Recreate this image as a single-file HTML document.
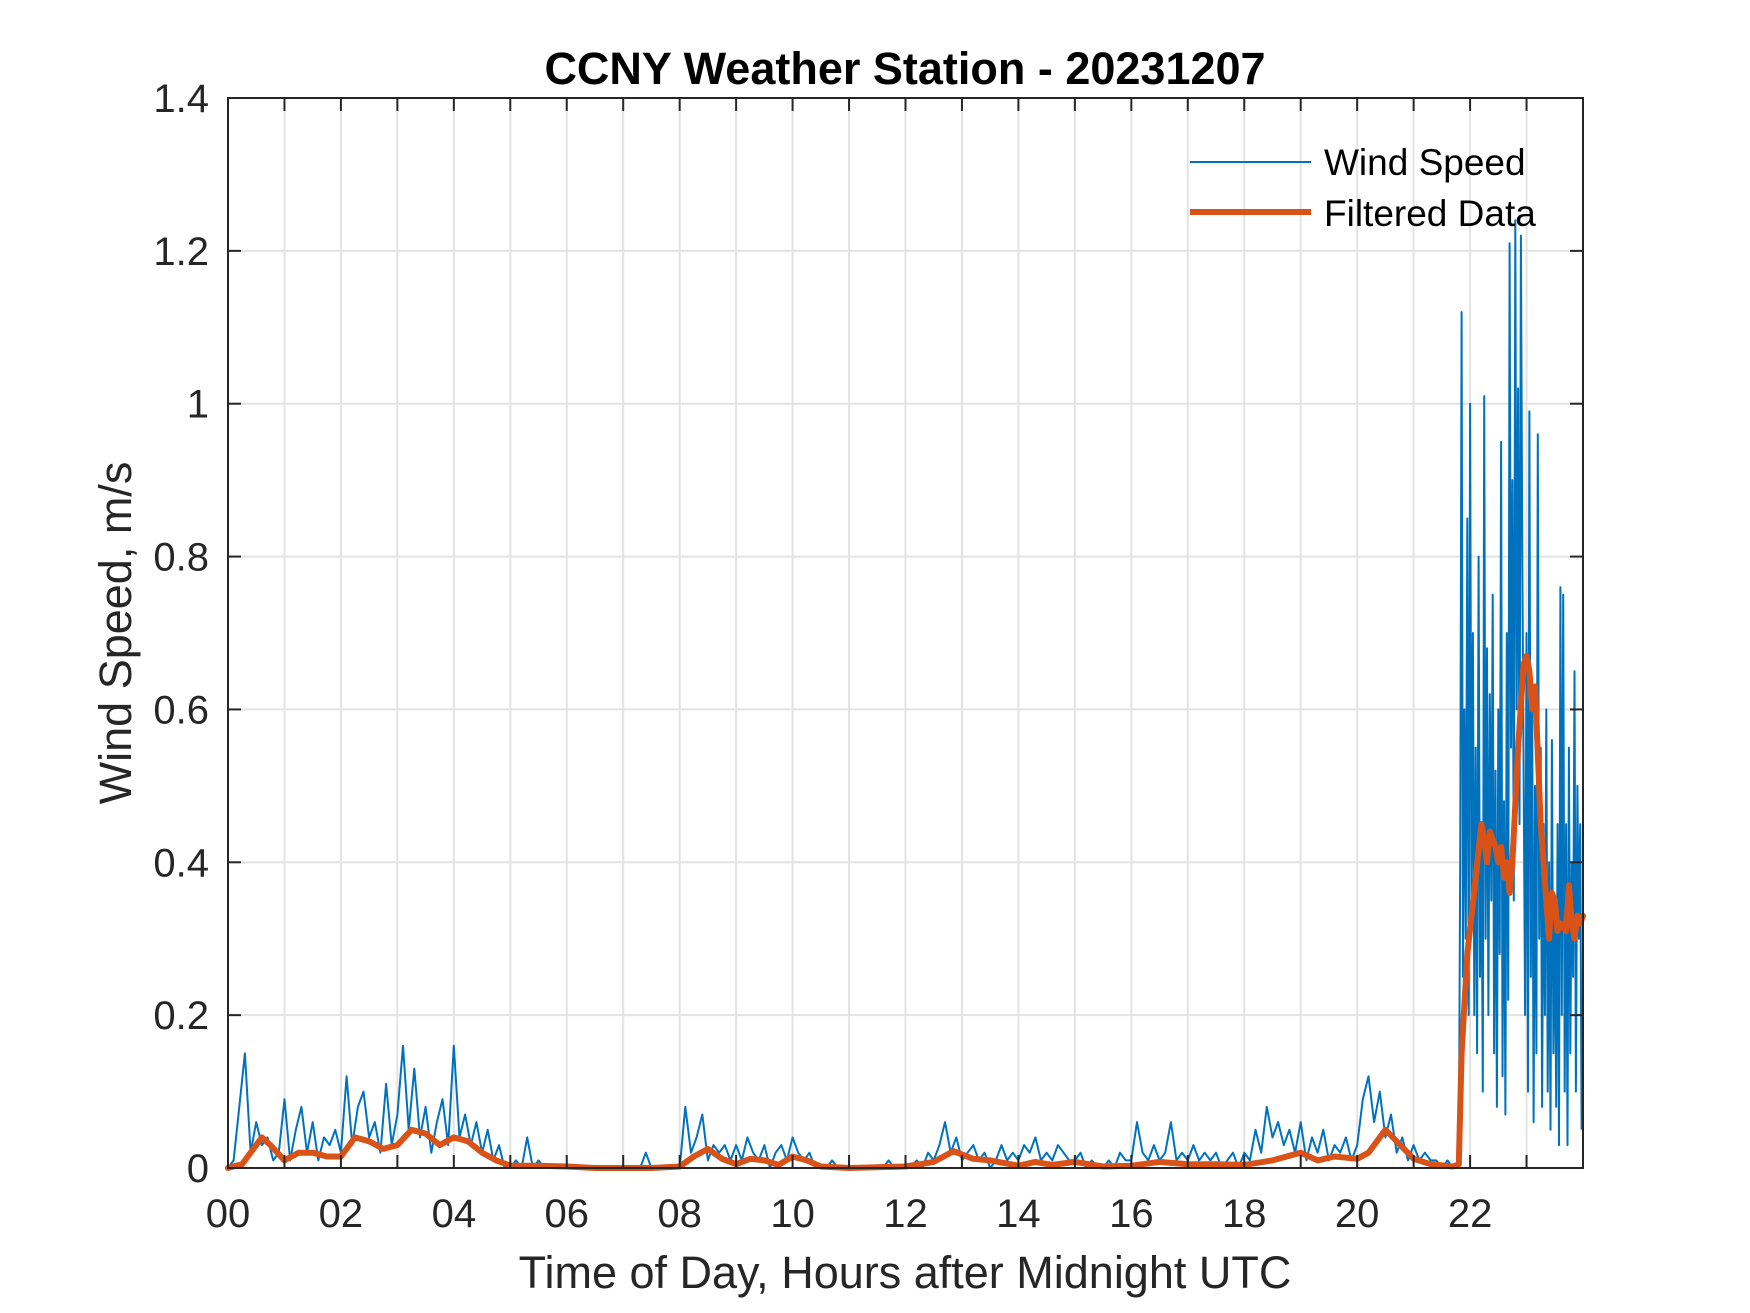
<!DOCTYPE html>
<html><head><meta charset="utf-8"><style>
html,body{margin:0;padding:0;background:#fff;}
svg{display:block;}
text{font-family:"Liberation Sans",Arial,sans-serif;}
</style></head><body>
<svg id="chart" width="1750" height="1313" viewBox="0 0 1750 1313" xmlns="http://www.w3.org/2000/svg">
<rect width="1750" height="1313" fill="#fff"/>
<g id="grid"></g>
<g id="series"></g>
<rect x="228" y="98" width="1355" height="1070" fill="none" stroke="#262626" stroke-width="2"/>
<g id="ticks"></g>
<text x="905" y="84" font-size="45" font-weight="bold" text-anchor="middle" fill="#000">CCNY Weather Station - 20231207</text>
<text x="905" y="1288" font-size="45" text-anchor="middle" fill="#262626">Time of Day, Hours after Midnight UTC</text>
<text transform="translate(131,633) rotate(-90)" font-size="45" text-anchor="middle" fill="#262626">Wind Speed, m/s</text>
<g>
<line x1="1190" y1="162" x2="1311" y2="162" stroke="#0072BD" stroke-width="2"/>
<text x="1324" y="175" font-size="37" fill="#000">Wind Speed</text>
<line x1="1190" y1="212" x2="1311" y2="212" stroke="#D95319" stroke-width="6"/>
<text x="1324" y="226" font-size="37" fill="#000">Filtered Data</text>
</g>
</svg>
<script>
const xTickLabels = ["00","02","04","06","08","10","12","14","16","18","20","22"];
const yTickValues = [0,0.2,0.4,0.6,0.8,1,1.2,1.4];
const yTickLabels = ["0","0.2","0.4","0.6","0.8","1","1.2","1.4"];
// Raw wind speed, part 1: 0.0h - 21.7h every 0.1 h
const speedEarly = [
0,0.01,0.08,0.15,0.02,0.06,0.03,0.04,0.01,0.02,
0.09,0.01,0.05,0.08,0.02,0.06,0.01,0.04,0.03,0.05,
0.02,0.12,0.03,0.08,0.10,0.04,0.06,0.02,0.11,0.03,
0.07,0.16,0.05,0.13,0.04,0.08,0.02,0.06,0.09,0.03,
0.16,0.04,0.07,0.03,0.06,0.02,0.05,0.01,0.03,0.0,
0.0,0.01,0.0,0.04,0.0,0.01,0.0,0.0,0.0,0.0,
0,0,0,0,0,0,0,0,0,0,
0,0,0,0,0.02,0,0,0,0,0,
0,0.08,0.02,0.04,0.07,0.01,0.03,0.02,0.03,0.01,
0.03,0.01,0.04,0.02,0.01,0.03,0,0.02,0.03,0.01,
0.04,0.02,0.01,0.02,0,0,0,0.01,0,0,
0,0,0,0,0,0,0,0.01,0,0,
0,0,0.01,0,0.02,0.01,0.03,0.06,0.02,0.04,
0.01,0.02,0.03,0.01,0.02,0,0.01,0.03,0.01,0.02,
0.01,0.03,0.02,0.04,0.01,0.02,0.01,0.03,0.02,0.01,
0.01,0.02,0,0.01,0,0,0.01,0,0.02,0.01,
0.01,0.06,0.02,0.01,0.03,0.01,0.02,0.06,0.01,0.02,
0.01,0.03,0.01,0.02,0.01,0.02,0,0.01,0.02,0,
0.02,0.01,0.05,0.02,0.08,0.04,0.06,0.03,0.05,0.02,
0.06,0.01,0.04,0.02,0.05,0.01,0.03,0.02,0.04,0.01,
0.03,0.09,0.12,0.06,0.10,0.04,0.07,0.02,0.04,0.01,
0.03,0.01,0.02,0.01,0.01,0,0.01,0];
const earlyStart = 0, earlyStep = 0.1;
// Raw wind speed, part 2: 21.8h onward every 0.025 h
const speedLate = [
0.01,0.40,1.12,0.25,0.60,0.30,0.85,0.20,1.00,0.35,0.70,0.20,0.55,0.15,0.80,0.25,
0.45,0.10,1.01,0.30,0.68,0.20,0.62,0.35,0.75,0.15,0.52,0.08,0.60,0.28,0.95,0.12,
0.48,0.07,0.70,0.22,1.21,0.55,0.90,0.35,1.24,0.60,1.02,0.45,1.22,0.80,0.50,0.20,
0.70,0.10,0.99,0.25,0.60,0.06,0.50,0.15,0.96,0.30,0.55,0.08,0.45,0.20,0.60,0.10,
0.40,0.05,0.56,0.15,0.35,0.08,0.45,0.03,0.76,0.20,0.75,0.10,0.45,0.03,0.55,0.15,
0.40,0.25,0.65,0.10,0.50,0.30,0.45,0.05];
const lateStart = 21.8, lateStep = 0.025;
// Filtered data
const filtHours = [0,0.25,0.5,0.6,0.75,1.0,1.25,1.5,1.75,2.0,2.25,2.5,2.75,3.0,3.25,3.5,3.75,4.0,4.25,4.5,4.75,5.0,5.5,6.0,6.5,7.5,8.0,8.25,8.5,8.75,9.0,9.25,9.5,9.75,10.0,10.25,10.5,11.0,12.0,12.5,12.85,13.2,13.5,14.0,14.3,14.6,15.0,15.5,16.0,16.5,17.0,17.5,18.0,18.5,19.0,19.3,19.6,20.0,20.2,20.5,20.7,21.0,21.3,21.7,21.8,21.85,21.95,22.1,22.2,22.25,22.3,22.35,22.45,22.5,22.55,22.6,22.65,22.7,22.75,22.85,22.95,23.0,23.05,23.1,23.15,23.25,23.35,23.4,23.45,23.5,23.55,23.6,23.7,23.75,23.8,23.85,23.9,23.95,24.0];
const filtValues = [0,0.005,0.03,0.04,0.03,0.01,0.02,0.02,0.015,0.015,0.04,0.035,0.025,0.03,0.05,0.045,0.03,0.04,0.035,0.02,0.01,0.003,0.003,0.002,0,0,0.002,0.015,0.025,0.012,0.005,0.012,0.01,0.004,0.015,0.01,0.002,0,0.002,0.008,0.022,0.012,0.01,0.003,0.008,0.004,0.008,0.002,0.003,0.008,0.005,0.005,0.004,0.01,0.02,0.01,0.015,0.012,0.02,0.05,0.035,0.012,0.005,0.002,0.005,0.15,0.28,0.38,0.45,0.43,0.40,0.44,0.42,0.40,0.42,0.38,0.40,0.36,0.40,0.55,0.66,0.67,0.65,0.60,0.63,0.45,0.35,0.30,0.36,0.35,0.31,0.32,0.31,0.37,0.32,0.30,0.33,0.32,0.33];

const X0=228,X1=1583,Y0=1168,Y1=98,XMAX=24,YMAX=1.4;
const NS="http://www.w3.org/2000/svg";
function xs(h){return X0+(h/XMAX)*(X1-X0);}
function ys(v){return Y0-(v/YMAX)*(Y0-Y1);}
function mk(tag,attrs,parent){const e=document.createElementNS(NS,tag);for(const k in attrs)e.setAttribute(k,attrs[k]);parent.appendChild(e);return e;}
const grid=document.getElementById('grid'),ticks=document.getElementById('ticks'),series=document.getElementById('series');
for(let h=1;h<XMAX;h++){
  const g=mk('line',{x1:xs(h),x2:xs(h),y1:Y1,y2:Y0,stroke:'#e3e3e3','stroke-width':2},grid);
  
  
  const t1=mk('line',{x1:xs(h),x2:xs(h),y1:Y0,y2:Y0-13,stroke:'#262626','stroke-width':2},ticks);
  
  
  const t2=mk('line',{x1:xs(h),x2:xs(h),y1:Y1,y2:Y1+13,stroke:'#262626','stroke-width':2},ticks);
  
  
}
xTickLabels.forEach((lab,i)=>{
  const t=mk('text',{x:xs(i*2),y:1227,'font-size':40,'text-anchor':'middle',fill:'#262626'},ticks);
  t.textContent=lab;
  
  
});
yTickValues.forEach((v,i)=>{
  if(v>0&&v<YMAX){
    const g=mk('line',{x1:X0,x2:X1,y1:ys(v),y2:ys(v),stroke:'#e3e3e3','stroke-width':2},grid);
    
    
  }
  const a=mk('line',{x1:X0,x2:X0+13,y1:ys(v),y2:ys(v),stroke:'#262626','stroke-width':2},ticks);
  
  
  const b=mk('line',{x1:X1,x2:X1-13,y1:ys(v),y2:ys(v),stroke:'#262626','stroke-width':2},ticks);
  
  
  const t=mk('text',{x:209,y:ys(v)+14,'font-size':40,'text-anchor':'end',fill:'#262626'},ticks);
  t.textContent=yTickLabels[i];
  
  
});
let pts=[];
speedEarly.forEach((v,i)=>pts.push(xs(earlyStart+i*earlyStep).toFixed(1)+','+ys(v).toFixed(1)));
speedLate.forEach((v,i)=>pts.push(xs(lateStart+i*lateStep).toFixed(1)+','+ys(v).toFixed(1)));
const raw=mk('polyline',{points:pts.join(' '),fill:'none',stroke:'#0072BD','stroke-width':2,'stroke-linejoin':'round'},series);


const fp=filtHours.map((h,i)=>xs(h).toFixed(1)+','+ys(filtValues[i]).toFixed(1));
const filt=mk('polyline',{points:fp.join(' '),fill:'none',stroke:'#D95319','stroke-width':6,'stroke-linejoin':'round','stroke-linecap':'round'},series);


</script>
</body></html>
